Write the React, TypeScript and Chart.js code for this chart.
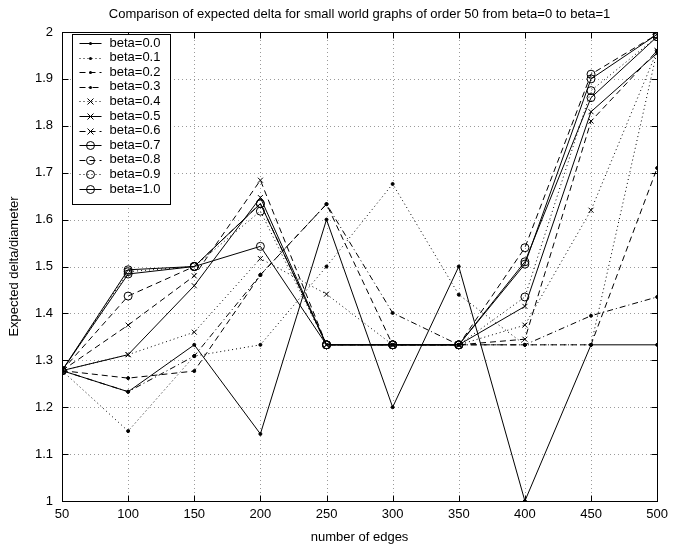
import React, { useEffect, useRef } from "react";
import { Chart, registerables } from "chart.js";

Chart.register(...registerables);

const titleText =
  "Comparison of expected delta for small world graphs of order 50 from beta=0 to beta=1";
const xAxisLabel = "number of edges";
const yAxisLabel = "Expected delta/diameter";

const edges = [50, 100, 150, 200, 250, 300, 350, 400, 450, 500];

const beta00 = [1.278, 1.233, 1.333, 1.143, 1.6, 1.2, 1.5, 1.0, 1.333, 1.333];
const beta01 = [1.278, 1.149, 1.309, 1.333, 1.5, 1.676, 1.44, 1.333, 1.333, 1.96];
const beta02 = [1.278, 1.262, 1.277, 1.482, 1.633, 1.333, 1.333, 1.333, 1.333, 1.71];
const beta03 = [1.278, 1.233, 1.309, 1.482, 1.633, 1.401, 1.333, 1.333, 1.395, 1.435];
const beta04 = [1.278, 1.312, 1.36, 1.517, 1.441, 1.333, 1.333, 1.375, 1.62, 1.96];
const beta05 = [1.278, 1.312, 1.459, 1.647, 1.333, 1.333, 1.333, 1.415, 1.83, 1.955];
const beta06 = [1.278, 1.375, 1.48, 1.684, 1.333, 1.333, 1.333, 1.345, 1.81, 1.96];
const beta07 = [1.278, 1.493, 1.5, 1.543, 1.333, 1.333, 1.333, 1.51, 1.86, 1.99];
const beta08 = [1.278, 1.437, 1.5, 1.634, 1.333, 1.333, 1.333, 1.54, 1.91, 1.995];
const beta09 = [1.278, 1.489, 1.5, 1.618, 1.333, 1.333, 1.333, 1.435, 1.875, 1.99];
const beta10 = [1.278, 1.484, 1.5, 1.634, 1.333, 1.333, 1.333, 1.505, 1.9, 1.995];

const seriesLabels = [
  "beta=0.0", "beta=0.1", "beta=0.2", "beta=0.3", "beta=0.4", "beta=0.5",
  "beta=0.6", "beta=0.7", "beta=0.8", "beta=0.9", "beta=1.0",
];
const seriesValues = [beta00, beta01, beta02, beta03, beta04, beta05, beta06, beta07, beta08, beta09, beta10];

const SOLID: number[] = [];
const DOTTED = [1, 3];
const DASHED = [6, 4];
const DASHDOT = [6, 3, 1, 3];
const lineStyles = [SOLID, DOTTED, DASHED, DASHDOT, DOTTED, SOLID, DASHED, SOLID, DASHED, DOTTED, SOLID];
const markers = ["dot", "dot", "dot", "dot", "x", "x", "x", "o", "o", "o", "o"];

const yMin = 1;
const yMax = 2;
const yStep = 0.1;
const xMin = 50;
const xMax = 500;
const xStep = 50;

const FONT = '"Liberation Sans", Arial, Helvetica, sans-serif';
const FS = 13;

function drawMarker(ctx: CanvasRenderingContext2D, kind: string, x: number, y: number) {
  ctx.save();
  ctx.setLineDash([]);
  ctx.strokeStyle = "#000";
  ctx.fillStyle = "#000";
  ctx.lineWidth = 1;
  if (kind === "dot") {
    ctx.beginPath();
    ctx.arc(x, y, 1.5, 0, Math.PI * 2);
    ctx.fill();
  } else if (kind === "x") {
    const r = 3;
    ctx.beginPath();
    ctx.moveTo(x - r, y - r);
    ctx.lineTo(x + r, y + r);
    ctx.moveTo(x - r, y + r);
    ctx.lineTo(x + r, y - r);
    ctx.stroke();
  } else {
    ctx.beginPath();
    ctx.arc(x, y, 4, 0, Math.PI * 2);
    ctx.stroke();
  }
  ctx.restore();
}

const matlabPlugin = {
  id: "matlabLook",
  beforeDatasetsDraw(chart: any) {
    const { ctx, chartArea: a, scales } = chart;
    ctx.save();
    ctx.strokeStyle = "#9a9a9a";
    ctx.lineWidth = 1;
    ctx.setLineDash([1, 3]);
    for (let v = xMin; v <= xMax; v += xStep) {
      const px = Math.round(scales.x.getPixelForValue(v)) + 0.5;
      ctx.beginPath();
      ctx.moveTo(px, a.top);
      ctx.lineTo(px, a.bottom);
      ctx.stroke();
    }
    for (let i = 0; i <= Math.round((yMax - yMin) / yStep); i++) {
      const py = Math.round(scales.y.getPixelForValue(yMin + i * yStep)) + 0.5;
      ctx.beginPath();
      ctx.moveTo(a.left, py);
      ctx.lineTo(a.right, py);
      ctx.stroke();
    }
    ctx.restore();
  },
  afterDraw(chart: any) {
    const { ctx, chartArea: a, scales } = chart;
    ctx.save();
    ctx.setLineDash([]);
    ctx.strokeStyle = "#000";
    ctx.lineWidth = 1;
    const L = Math.round(a.left) + 0.5;
    const R = Math.round(a.right) + 0.5;
    const T = Math.round(a.top) + 0.5;
    const B = Math.round(a.bottom) + 0.5;
    ctx.strokeRect(L, T, R - L, B - T);
    const tl = 6;
    ctx.beginPath();
    for (let v = xMin; v <= xMax; v += xStep) {
      const px = Math.round(scales.x.getPixelForValue(v)) + 0.5;
      ctx.moveTo(px, B);
      ctx.lineTo(px, B - tl);
      ctx.moveTo(px, T);
      ctx.lineTo(px, T + tl);
    }
    for (let i = 0; i <= Math.round((yMax - yMin) / yStep); i++) {
      const py = Math.round(scales.y.getPixelForValue(yMin + i * yStep)) + 0.5;
      ctx.moveTo(L, py);
      ctx.lineTo(L + tl, py);
      ctx.moveTo(R, py);
      ctx.lineTo(R - tl, py);
    }
    ctx.stroke();

    // title
    ctx.fillStyle = "#000";
    ctx.font = FS + "px " + FONT;
    ctx.textAlign = "center";
    ctx.textBaseline = "middle";
    ctx.fillText(titleText, (a.left + a.right) / 2, 14);

    // legend
    const bx = Math.round(a.left) + 10.5;
    const by = Math.round(a.top) + 2.5;
    const bw = 98;
    const rowH = 14.6;
    const bh = Math.round(rowH * seriesLabels.length + 9);
    ctx.fillStyle = "#fff";
    ctx.fillRect(bx, by, bw, bh);
    ctx.strokeStyle = "#000";
    ctx.strokeRect(bx, by, bw, bh);
    ctx.font = FS + "px " + FONT;
    ctx.textAlign = "left";
    ctx.textBaseline = "middle";
    seriesLabels.forEach((lab, i) => {
      const cy = by + 8.5 + rowH * i;
      const lx0 = bx + 7;
      const lx1 = bx + 29;
      ctx.save();
      ctx.strokeStyle = "#000";
      ctx.lineWidth = 1;
      ctx.setLineDash(lineStyles[i]);
      ctx.beginPath();
      ctx.moveTo(lx0, Math.round(cy) + 0.5);
      ctx.lineTo(lx1, Math.round(cy) + 0.5);
      ctx.stroke();
      ctx.restore();
      drawMarker(ctx, markers[i], (lx0 + lx1) / 2, Math.round(cy) + 0.5);
      ctx.fillStyle = "#000";
      ctx.fillText(lab, bx + 37, cy);
    });
    ctx.restore();
  },
};

export default function App() {
  const ref = useRef<HTMLCanvasElement | null>(null);
  useEffect(() => {
    if (!ref.current) return;
    const datasets = seriesValues.map((vals, i) => {
      const m = markers[i];
      return {
        label: seriesLabels[i],
        data: edges.map((x, j) => ({ x, y: vals[j] })),
        borderColor: "#000",
        borderWidth: 1,
        borderDash: lineStyles[i],
        pointStyle: m === "x" ? "crossRot" : "circle",
        pointRadius: m === "dot" ? 1.5 : m === "x" ? 3.5 : 4,
        pointBorderColor: "#000",
        pointBackgroundColor: m === "dot" ? "#000" : "rgba(0,0,0,0)",
        pointBorderWidth: 1,
        tension: 0,
        fill: false,
      };
    });
    const chart = new Chart(ref.current, {
      type: "line",
      data: { datasets },
      options: {
        animation: false,
        responsive: false,
        devicePixelRatio: 1,
        layout: { padding: { top: 32, right: 10, left: 0, bottom: 0 } },
        plugins: {
          legend: { display: false },
          tooltip: { enabled: false },
          title: { display: false },
        },
        scales: {
          x: {
            type: "linear",
            min: xMin,
            max: xMax,
            ticks: {
              stepSize: xStep,
              color: "#000",
              padding: 6,
              maxRotation: 0,
              font: { family: FONT, size: FS },
            },
            grid: { display: false, drawTicks: false },
            border: { display: false },
            title: {
              display: true,
              text: xAxisLabel,
              color: "#000",
              font: { family: FONT, size: FS },
              padding: { top: 0, bottom: 5 },
            },
            afterFit: (s: any) => {
              s.height = 49;
            },
          },
          y: {
            type: "linear",
            min: yMin,
            max: yMax,
            ticks: {
              stepSize: yStep,
              color: "#000",
              padding: 9,
              font: { family: FONT, size: FS },
              callback: (v: any) => String(Number(Number(v).toFixed(1))),
            },
            grid: { display: false, drawTicks: false },
            border: { display: false },
            title: {
              display: true,
              text: yAxisLabel,
              color: "#000",
              font: { family: FONT, size: FS },
              padding: { top: 7, bottom: 0 },
            },
            afterFit: (s: any) => {
              s.width = 62;
            },
          },
        },
      } as any,
      plugins: [matlabPlugin],
    });
    return () => chart.destroy();
  }, []);
  return (
    <div style={{ position: "fixed", left: 0, top: 0, width: 674, height: 550, background: "#fff" }}>
      <canvas ref={ref} width={674} height={550} style={{ width: 674, height: 550, display: "block" }} />
    </div>
  );
}
